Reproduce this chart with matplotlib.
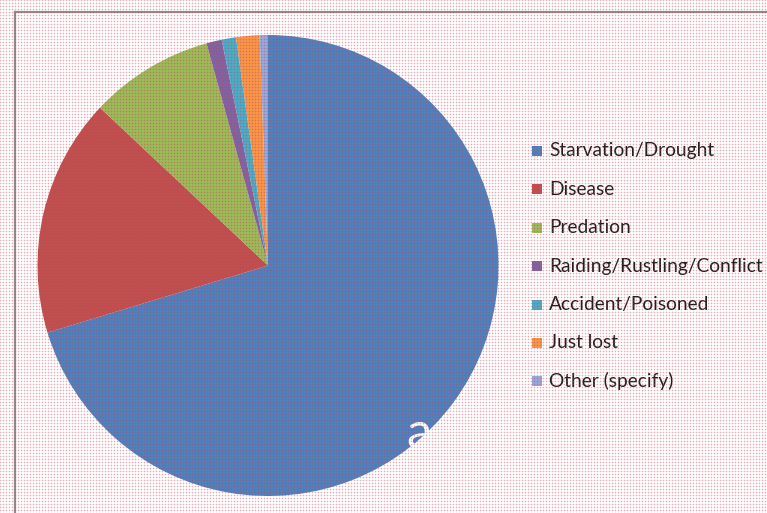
import numpy as np
import matplotlib
matplotlib.use("Agg")
import matplotlib.pyplot as plt
from matplotlib.patches import Rectangle
from matplotlib.lines import Line2D

# ---- data ----
categories = ["Starvation/Drought", "Disease", "Predation",
              "Raiding/Rustling/Conflict", "Accident/Poisoned",
              "Just lost", "Other (specify)"]
values = [70.3, 16.7, 8.7, 1.08, 1.0, 1.64, 0.58]
colors = ["#4F81BD", "#C0504D", "#9BBB59", "#8064A2",
          "#4BACC6", "#F79646", "#95A9DA"]

W, H = 767, 513
DPI = 100
fig = plt.figure(figsize=(W / DPI, H / DPI), dpi=DPI)
fig.patch.set_facecolor("white")

# pie axes (pixel geometry)
cx, cy, r = 268, 265.5, 230.5
ax = fig.add_axes([(cx - r) / W, (H - cy - r) / H, 2 * r / W, 2 * r / H])
ax.pie(values, colors=colors, startangle=90, counterclock=False,
       radius=1.0, wedgeprops=dict(linewidth=0))
ax.set_xlim(-1, 1)
ax.set_ylim(-1, 1)
ax.set_aspect("auto")
ax.axis("off")

# white stray letter
fig.text(419 / W, 1 - 448 / H, "a", color="white", fontsize=37,
         family="Lato", ha="center", va="baseline")

# chart area border (left and top)
fig.add_artist(Line2D([15.3 / W, 15.3 / W], [0, 1 - 12 / H],
                      transform=fig.transFigure, color="#8f8f8f", lw=1.6))
fig.add_artist(Line2D([15.3 / W, 1], [1 - 12 / H, 1 - 12 / H],
                      transform=fig.transFigure, color="#8f8f8f", lw=1.6))

# legend
row0, step = 151, 38.4
for i, (lab, col) in enumerate(zip(categories, colors)):
    yc = row0 + i * step
    fig.add_artist(Rectangle((532 / W, 1 - (yc + 5) / H), 10 / W, 10 / H,
                             transform=fig.transFigure, facecolor=col,
                             edgecolor="none"))
    fig.text(549 / W, 1 - yc / H, lab, fontsize=13.8, family="Lato",
             color="#1e1e1e", ha="left", va="center")

# dotted texture overlay
yy, xx = np.mgrid[0:H, 0:W]
mx = (xx % 3 == 0)
my = (yy % 3 == 0)
alpha = np.where(mx & my, 0.45, np.where(mx | my, 0.10, 0.0))
overlay = np.zeros((H, W, 4))
overlay[..., 0] = 0.75
overlay[..., 1] = 0.25
overlay[..., 2] = 0.35
overlay[..., 3] = alpha
fig.figimage(overlay, xo=0, yo=0, origin="upper", zorder=10)

fig.savefig("out.png", dpi=DPI)
